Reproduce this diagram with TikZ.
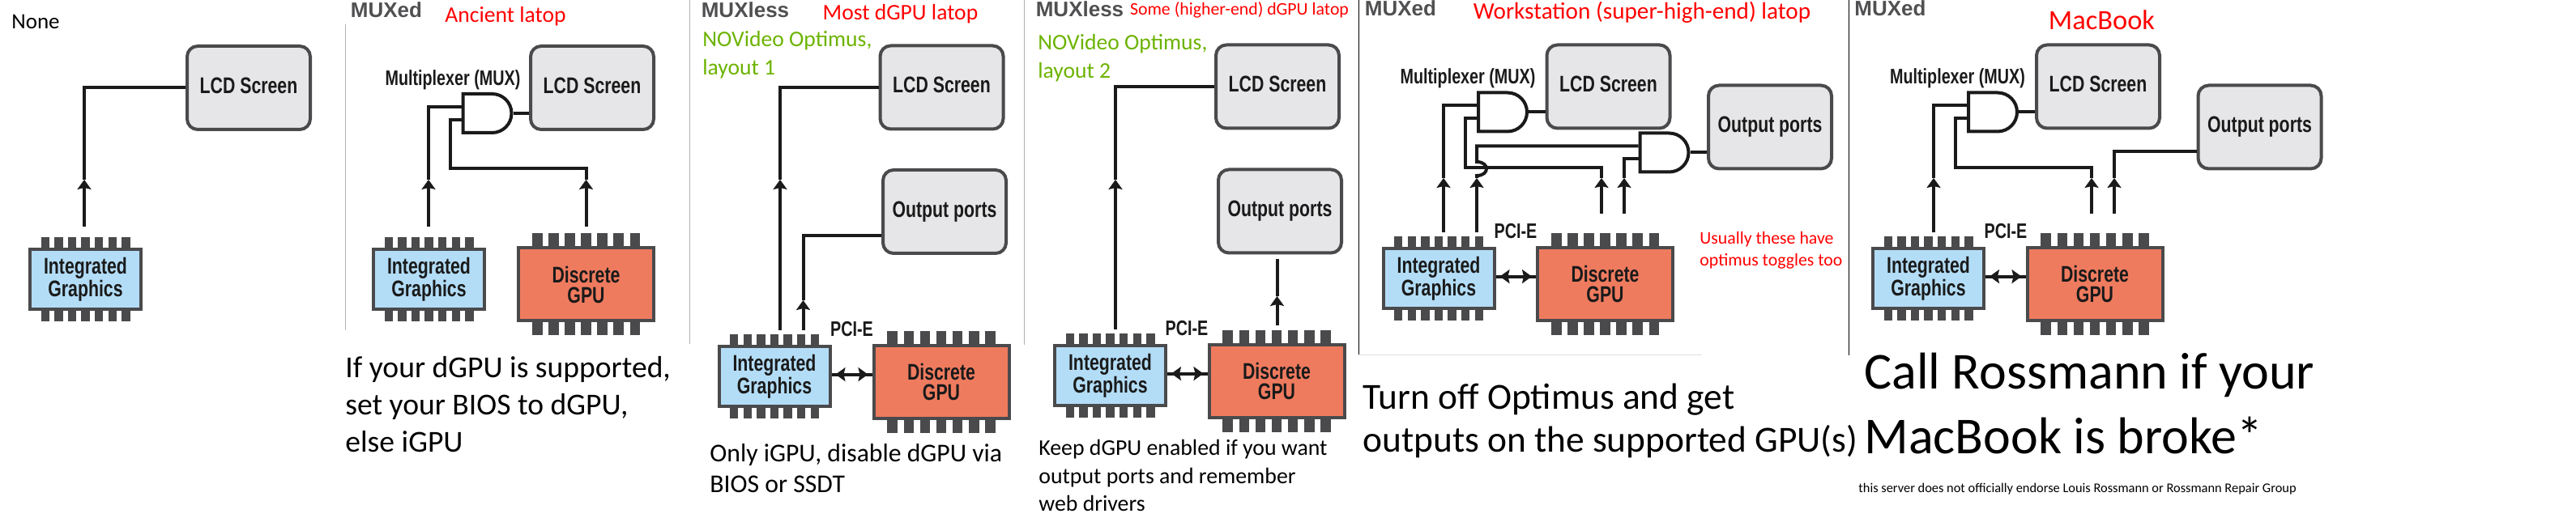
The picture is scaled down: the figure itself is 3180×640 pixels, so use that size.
\documentclass[tikz,border=0pt]{standalone}
\usepackage{fontspec}
\setmainfont{Carlito}
\newfontfamily\chipfont[FakeStretch=0.76]{Liberation Sans}
\newfontfamily\headfont{Liberation Sans}
\usetikzlibrary{shapes.gates.logic.US,arrows.meta}
\definecolor{wireblack}{HTML}{1A1A1A}
\definecolor{edgegray}{HTML}{4A4A4C}
\definecolor{lcdgray}{HTML}{E6E6E8}
\definecolor{igpblue}{HTML}{B3DDF7}
\definecolor{dgpred}{HTML}{EF7B5F}
\definecolor{notegreen}{HTML}{6CB300}
\definecolor{headgray}{HTML}{505052}
\newcommand{\igpchip}[3]{
    \foreach \p in {-3,...,3} {
        \fill[edgegray] (#2+\p*16.6-5.2,#3-52) rectangle (#2+\p*16.6+5.2,#3+52);
    }
    \node (#1) [igp] at (#2,#3) {Integrated\\Graphics};
}
\newcommand{\dgpchip}[3]{
    \foreach \p in {-3,...,3} {
        \fill[edgegray] (#2+\p*20.1-6.3,#3-63) rectangle (#2+\p*20.1+6.3,#3+63);
    }
    \node (#1) [dgp] at (#2,#3) {Discrete\\GPU};
}
\newcommand{\pcilink}[2]{
    \draw[wire] ([yshift=1.2pt]#1.east) -- ([yshift=1.2pt]#1.east -| #2.west);
    \draw[wire,{Stealth[length=6pt,width=8.5pt,inset=1pt]}-{Stealth[length=6pt,width=8.5pt,inset=1pt]},shorten <=2.5pt,shorten >=2.5pt] ([yshift=1.2pt]#1.east) -- ([yshift=1.2pt]#1.east -| #2.west);
}
\begin{document}
\begin{tikzpicture}[x=0.5pt,y=-0.5pt]
    \tikzstyle{lcdbox}=[draw=edgegray,fill=lcdgray,line width=2pt,rounded corners=6.5pt,minimum width=76pt,minimum height=51.5pt,inner sep=0pt,text=wireblack,font=\chipfont\bfseries\fontsize{14}{14}\selectfont]
    \tikzstyle{igp}=[draw=edgegray,fill=igpblue,line width=2pt,minimum width=68.5pt,minimum height=37pt,inner sep=0pt,align=center,text=wireblack,font=\chipfont\bfseries\fontsize{14}{12.5}\selectfont]
    \tikzstyle{dgp}=[draw=edgegray,fill=dgpred,line width=2pt,minimum width=83.5pt,minimum height=45pt,inner sep=0pt,align=center,text=wireblack,font=\chipfont\bfseries\fontsize{14}{12.5}\selectfont]
    \tikzstyle{muxgate}=[and gate US,draw=wireblack,fill=white,line width=2pt,logic gate inputs=nn,logic gate input sep=7pt,minimum width=24pt,minimum height=15pt,inner sep=0pt]
    \tikzstyle{wire}=[draw=wireblack,line width=2pt]
    \tikzstyle{up}=[wire,-{Stealth[length=6pt,width=8.5pt,inset=1pt]}]
    \tikzstyle{tag}=[inner sep=0pt,text=wireblack,font=\chipfont\bfseries\fontsize{13}{13}\selectfont]
    \tikzstyle{head}=[inner sep=0pt,text=headgray,font=\headfont\bfseries\fontsize{13}{13}\selectfont]
    \tikzstyle{title}=[inner sep=0pt,text=red,font=\fontsize{13.8}{17}\selectfont]
    \tikzstyle{optimus}=[anchor=west,inner sep=0pt,align=left,text=notegreen,font=\fontsize{13.8}{17.5}\selectfont]
    \tikzstyle{remark}=[anchor=base west,inner sep=0pt,align=left,text=black]
    \tikzstyle{crop}=[draw=black!30,line width=0.5pt]
    \useasboundingbox (0,0) rectangle (3180,640);

    \draw[crop] (426,30) -- (426,408);
    \draw[crop] (851,0) -- (851,425);
    \draw[crop] (1264,0) -- (1264,426);
    \draw[draw=black,line width=0.5pt] (1677,0) -- (1677,439);
    \draw[draw=black!12,line width=0.5pt] (1677,439) -- (2101,439);
    \draw[draw=black,line width=0.5pt] (2282,0) -- (2282,439);

    % none
    \node (noneA) [anchor=center,inner sep=0pt,font=\fontsize{13.5}{16}\selectfont] at (44,26.5) {None};
    \node (lcdA) [lcdbox,text depth=3pt] at (307,108.5) {LCD Screen};
    \igpchip{igpA}{105.5}{345}
    \coordinate (fromA) at (104,280);
    \coordinate (tipA) at (104,222);
    \draw[up] (fromA) -- (tipA);
    \draw[wire] (tipA) |- (lcdA.west);

    % ancient
    \node (headB) [head] at (477,12) {MUXed};
    \node (titleB) [title] at (624,20) {Ancient latop};
    \node (lcdB) [lcdbox,text depth=3pt] at (731,108.5) {LCD Screen};
    \node (tagB) [tag] at (559,99) {Multiplexer (MUX)};
    \igpchip{igpB}{529.5}{345}
    \dgpchip{dgpB}{723.5}{351.5}
    \coordinate (fromB1) at (529,280);
    \coordinate (tipB1) at (529,222);
    \coordinate (fromB2) at (723.5,280);
    \coordinate (tipB2) at (723.5,222);
    \coordinate (bendB) at (556,208);
    \node (muxB) [muxgate] at (599.5,140) {};
    \draw[up] (fromB1) -- (tipB1);
    \draw[wire] (tipB1) |- (muxB.input 1);
    \draw[up] (fromB2) -- (tipB2);
    \draw[wire] (tipB2) |- (bendB) |- (muxB.input 2);
    \draw[wire] (muxB.output) -- (muxB.output -| lcdB.west);
    \node (noteB) [remark,font=\fontsize{18.8}{23}\selectfont] at (426,559) {If your dGPU is supported,\\set your BIOS to dGPU,\\else iGPU};

    % layout 1
    \node (headC) [head] at (920,12) {MUXless};
    \node (titleC) [title] at (1111.5,17.5) {Most dGPU latop};
    \node (greenC) [optimus] at (867,68) {NOVideo Optimus,\\layout 1};
    \node (lcdC) [lcdbox,text depth=3pt] at (1162.5,108) {LCD Screen};
    \node (outC) [lcdbox] at (1166,261.5) {Output ports};
    \igpchip{igpC}{956}{465}
    \dgpchip{dgpC}{1162}{472}
    \node (pciC) [tag] at (1051.5,407) {PCI-E};
    \coordinate (fromC1) at (963,408);
    \coordinate (tipC1) at (963,222);
    \coordinate (fromC2) at (991.5,408);
    \coordinate (tipC2) at (991.5,371);
    \draw[up] (fromC1) -- (tipC1);
    \draw[wire] (tipC1) |- (lcdC.west);
    \draw[up] (fromC2) -- (tipC2);
    \draw[wire] (tipC2) |- ([yshift=-15pt]outC.west);
    \pcilink{igpC}{dgpC}
    \node (noteC) [remark,font=\fontsize{15.85}{19.4}\selectfont] at (876,609) {Only iGPU, disable dGPU via\\BIOS or SSDT};

    % layout 2
    \node (headD) [head] at (1333,11.5) {MUXless};
    \node (titleD) [title,font=\fontsize{10.9}{13}\selectfont] at (1530,12) {Some (higher-end) dGPU latop};
    \node (greenD) [optimus] at (1281,72) {NOVideo Optimus,\\layout 2};
    \node (lcdD) [lcdbox,text depth=3pt] at (1577,107) {LCD Screen};
    \node (outD) [lcdbox] at (1580,261) {Output ports};
    \igpchip{igpD}{1370.5}{464}
    \dgpchip{dgpD}{1576}{471}
    \node (pciD) [tag] at (1465,406) {PCI-E};
    \coordinate (fromD1) at (1377,407);
    \coordinate (tipD1) at (1377,222);
    \coordinate (fromD2) at (1576.5,402);
    \coordinate (tipD2) at (1576.5,366);
    \coordinate (endD2) at (1576.5,320);
    \draw[up] (fromD1) -- (tipD1);
    \draw[wire] (tipD1) |- (lcdD.west);
    \draw[up] (fromD2) -- (tipD2);
    \draw[wire] (tipD2) -- (endD2);
    \pcilink{igpD}{dgpD}
    \node (noteD) [remark,font=\fontsize{13.9}{17.4}\selectfont] at (1282,632) {Keep dGPU enabled if you want\\output ports and remember\\web drivers};

    % workstation
    \node (headE) [head] at (1729,10) {MUXed};
    \node (titleE) [title,font=\fontsize{14.6}{17}\selectfont] at (2027,15.5) {Workstation (super-high-end) latop};
    \node (lcdE) [lcdbox,text depth=3pt] at (1985.5,107) {LCD Screen};
    \node (outE) [lcdbox] at (2185,157) {Output ports};
    \node (tagE) [tag] at (1812,97) {Multiplexer (MUX)};
    \igpchip{igpE}{1776}{344}
    \dgpchip{dgpE}{1981.5}{351}
    \node (pciE) [tag] at (1871,286) {PCI-E};
    \node (muxE) [muxgate] at (1853,138.5) {};
    \node (muxEE) [muxgate] at (2052.5,188.5) {};
    \coordinate (fromE1) at (1782,287);
    \coordinate (tipE1) at (1782,220);
    \coordinate (fromE2) at (1823,287);
    \coordinate (tipE2) at (1823,220);
    \coordinate (hopE1) at (1823,217);
    \coordinate (hopE2) at (1823,200);
    \coordinate (fromE3) at (1977,264);
    \coordinate (tipE3) at (1977,220);
    \coordinate (bendE) at (1809,206.7);
    \coordinate (fromE4) at (2005,264);
    \coordinate (tipE4) at (2005,220);
    \draw[up] (fromE1) -- (tipE1);
    \draw[wire] (tipE1) |- (muxE.input 1);
    \draw[up] (fromE2) -- (tipE2);
    \draw[wire] (tipE2) -- (hopE1) .. controls (1839,217) and (1839,200) .. (hopE2) |- (muxEE.input 1);
    \draw[up] (fromE3) -- (tipE3);
    \draw[wire] (tipE3) |- (bendE) |- (muxE.input 2);
    \draw[up] (fromE4) -- (tipE4);
    \draw[wire] (tipE4) |- (muxEE.input 2);
    \draw[wire] (muxE.output) -- (muxE.output -| lcdE.west);
    \draw[wire] (muxEE.output) -- (muxEE.output -| outE.west);
    \pcilink{igpE}{dgpE}
    \node (redE) [anchor=west,inner sep=0pt,align=left,text=red,font=\fontsize{10.9}{13.5}\selectfont] at (2098,309.5) {Usually these have\\optimus toggles too};
    \node (noteE) [remark,font=\fontsize{22.7}{26.5}\selectfont] at (1682,559) {Turn off Optimus and get\\outputs on the supported GPU(s)};

    % macbook
    \node (headF) [head] at (2333.5,10) {MUXed};
    \node (titleF) [title,font=\fontsize{17.2}{20}\selectfont] at (2594.5,24.5) {MacBook};
    \node (lcdF) [lcdbox,text depth=3pt] at (2590,107) {LCD Screen};
    \node (outF) [lcdbox] at (2789.5,157) {Output ports};
    \node (tagF) [tag] at (2416.5,97) {Multiplexer (MUX)};
    \igpchip{igpF}{2380.5}{344}
    \dgpchip{dgpF}{2586}{351}
    \node (pciF) [tag] at (2476,286) {PCI-E};
    \node (muxF) [muxgate] at (2458,138.5) {};
    \coordinate (fromF1) at (2387,287);
    \coordinate (tipF1) at (2387,220);
    \coordinate (fromF2) at (2582,264);
    \coordinate (tipF2) at (2582,220);
    \coordinate (bendF) at (2414,206.7);
    \coordinate (fromF3) at (2610,264);
    \coordinate (tipF3) at (2610,220);
    \draw[up] (fromF1) -- (tipF1);
    \draw[wire] (tipF1) |- (muxF.input 1);
    \draw[up] (fromF2) -- (tipF2);
    \draw[wire] (tipF2) |- (bendF) |- (muxF.input 2);
    \draw[up] (fromF3) -- (tipF3);
    \draw[wire] (tipF3) |- ([yshift=-15pt]outF.west);
    \draw[wire] (muxF.output) -- (muxF.output -| lcdF.west);
    \pcilink{igpF}{dgpF}
    \node (noteF) [remark,font=\fontsize{32}{40}\selectfont] at (2301,561) {Call Rossmann if your\\MacBook is broke*};
    \node (smallF) [remark,font=\fontsize{8.2}{10}\selectfont] at (2294,609) {this server does not officially endorse Louis Rossmann or Rossmann Repair Group};
\end{tikzpicture}
\end{document}
